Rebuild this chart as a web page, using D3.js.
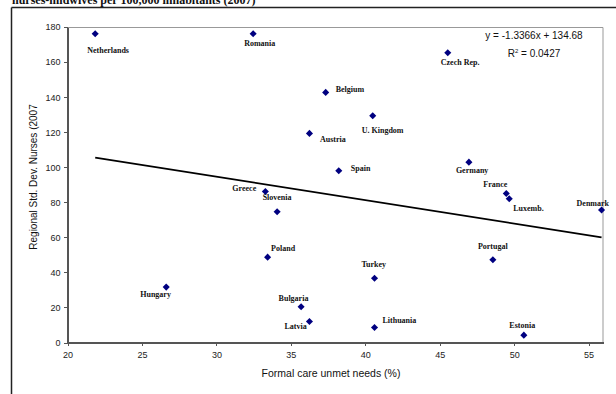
<!DOCTYPE html>
<meta charset="utf-8">
<style>
body { margin: 0; background: #fff; }
.axis text { font: 9px "Liberation Sans", Arial, sans-serif; fill: #222; }
.axis path, .axis line { stroke: #555; shape-rendering: crispEdges; }
.lbl { font: bold 8px "Liberation Serif", "Times New Roman", serif; fill: #111; }
.ttl { font: 10px "Liberation Sans", Arial, sans-serif; fill: #111; }
</style>
<body>
<script src="https://d3js.org/d3.v7.min.js"></script>
<script>

// countries, unmet needs (%), regional std. dev. nurses (2007)
var countries = ["Netherlands", "Romania", "Czech Rep.", "Belgium", "U. Kingdom", "Austria", "Spain",
    "Germany", "France", "Luxemb.", "Denmark", "Portugal", "Turkey", "Lithuania", "Estonia",
    "Greece", "Slovenia", "Poland", "Hungary", "Bulgaria", "Latvia"];
var unmet = [21.86, 32.47, 45.54, 37.34, 40.5, 36.25, 38.22,
    46.96, 49.47, 49.67, 55.87, 48.57, 40.62, 40.62, 50.65,
    33.29, 34.08, 33.44, 26.63, 35.69, 36.25];
var nursesSD = [176.1, 176.2, 165.3, 142.7, 129.4, 119.3, 98.0,
    102.9, 85.0, 82.0, 75.6, 47.2, 36.7, 8.6, 4.2,
    86.2, 74.6, 48.7, 31.6, 20.4, 12.0];

// linear trend reported on the chart
var slope = -1.3366, intercept = 134.68, r2 = 0.0427;

var xTicks = [20, 25, 30, 35, 40, 45, 50, 55];
var yTicks = [0, 20, 40, 60, 80, 100, 120, 140, 160, 180];

// label placement relative to each marker (px)
var labelOffset = {
    "Netherlands": [-8, 19], "Romania": [-9, 12], "Czech Rep.": [-7, 12], "Belgium": [10, 0],
    "U. Kingdom": [-11, 17.5], "Austria": [10.5, 9], "Spain": [12, 0], "Germany": [-13, 10.5],
    "France": [-23, -6.5], "Luxemb.": [4, 12], "Denmark": [-25, -4], "Portugal": [-15, -10.5],
    "Turkey": [-13, -11], "Lithuania": [8, -4], "Estonia": [-14.5, -7], "Greece": [-33, 0],
    "Slovenia": [-14.5, -11.5], "Poland": [3.5, -6.5], "Hungary": [-26, 10], "Bulgaria": [-22.5, -5.5],
    "Latvia": [-25, 8]
};

var W = 616, H = 394;
var margin = {top: 27, left: 67.5},
    width = 536, height = 315.5;

var svg = d3.select("body").append("svg")
    .attr("width", W)
    .attr("height", H);

// outer frame + cropped title
svg.append("line").attr("x1", 11.5).attr("x2", W).attr("y1", 7.5).attr("y2", 7.5)
    .attr("stroke", "#222").attr("stroke-width", 1.5);
svg.append("line").attr("x1", 11.5).attr("x2", 11.5).attr("y1", 7.5).attr("y2", H)
    .attr("stroke", "#222").attr("stroke-width", 1.5);
svg.append("text")
    .attr("x", 12).attr("y", 3.5)
    .style("font", "bold 12px 'Liberation Serif', serif")
    .attr("fill", "#111")
    .text("nurses-midwives per 100,000 inhabitants (2007)");

var g = svg.append("g")
    .attr("transform", "translate(" + margin.left + "," + margin.top + ")");

var x = d3.scaleLinear().domain([20, 56]).range([0, width]);
var y = d3.scaleLinear().domain([0, 180]).range([height, 0]);

// plot area border (top, right)
g.append("path")
    .attr("d", "M0,0.5H" + (width - 0.5) + "V" + height)
    .attr("fill", "none")
    .attr("stroke", "#999")
    .attr("stroke-width", 1);

g.append("g")
    .attr("class", "axis")
    .attr("transform", "translate(0," + height + ")")
    .call(d3.axisBottom(x).tickValues(xTicks).tickSize(3).tickPadding(6).tickSizeOuter(0))
    .call(a => a.select(".domain").attr("stroke-width", 1.5));

g.append("g")
    .attr("class", "axis")
    .call(d3.axisLeft(y).tickValues(yTicks).tickSize(4).tickPadding(3).tickSizeOuter(0))
    .call(a => a.select(".domain").attr("stroke-width", 1.5));

// axis titles
svg.append("text")
    .attr("class", "ttl")
    .attr("x", 331).attr("y", 377)
    .attr("text-anchor", "middle")
    .style("font-size", "10.5px")
    .text("Formal care unmet needs (%)");

svg.append("text")
    .attr("class", "ttl")
    .attr("transform", "translate(37,177) rotate(-90)")
    .attr("text-anchor", "middle")
    .text("Regional Std. Dev. Nurses (2007");

// trend line over the data range
var xr = d3.extent(unmet);
g.append("line")
    .attr("x1", x(xr[0])).attr("y1", y(slope * xr[0] + intercept))
    .attr("x2", x(xr[1])).attr("y2", y(slope * xr[1] + intercept))
    .attr("stroke", "#000")
    .attr("stroke-width", 1.8);

var data = countries.map(function(c, i) {
    return {name: c, x: unmet[i], y: nursesSD[i]};
});

g.selectAll(".dot")
    .data(data)
    .enter().append("path")
    .attr("class", "dot")
    .attr("d", d3.symbol(d3.symbolSquare, 25))
    .attr("transform", d => "translate(" + x(d.x) + "," + y(d.y) + ") rotate(45)")
    .attr("fill", "#000080");

g.selectAll(".lbl")
    .data(data)
    .enter().append("text")
    .attr("class", "lbl")
    .attr("x", d => x(d.x) + labelOffset[d.name][0])
    .attr("y", d => y(d.y) + labelOffset[d.name][1])
    .text(d => d.name);

// equation
var eq = g.append("g").attr("class", "ttl").attr("text-anchor", "middle");
eq.append("text")
    .attr("x", 466.5).attr("y", 12)
    .text("y = " + slope + "x + " + intercept);
var r = eq.append("text").attr("x", 466.5).attr("y", 30);
r.append("tspan").text("R");
r.append("tspan").attr("dy", -4).style("font-size", "6px").text("2");
r.append("tspan").attr("dy", 4).text(" = " + r2);

</script>
</body>
